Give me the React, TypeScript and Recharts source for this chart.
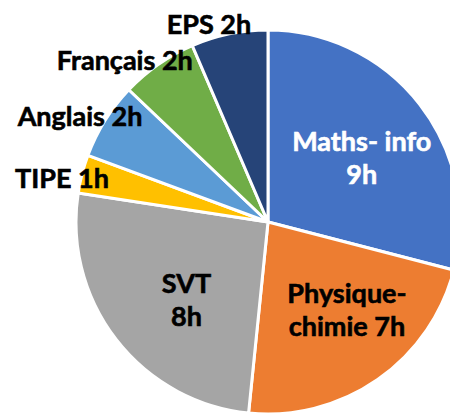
import React from 'react';
import { PieChart, Pie, Cell } from 'recharts';

const subjects = ['Maths- info', 'Physique-chimie', 'SVT', 'TIPE', 'Anglais', 'Français', 'EPS'];
const hours = [9, 7, 8, 1, 2, 2, 2];
const labelLines = [
  ['Maths- info', '9h'],
  ['Physique-', 'chimie 7h'],
  ['SVT', '8h'],
  ['TIPE 1h'],
  ['Anglais 2h'],
  ['Français 2h'],
  ['EPS 2h'],
];
const colors = ['#4472C4', '#ED7D31', '#A5A5A5', '#FFC000', '#5B9BD5', '#70AD47', '#264478'];
const textColors = ['#FFFFFF', '#000000', '#000000', '#000000', '#000000', '#000000', '#000000'];

const data = subjects.map((name, i) => ({ name, value: hours[i] }));

// label placement: radius ratio (of outer radius) and angle nudge (deg)
const placement = [
  { k: 0.594, da: -3 },
  { k: 0.612, da: 7.4 },
  { k: 0.583, da: 5.5 },
  { k: 1.097, da: 2.4 },
  { k: 1.124, da: 2.5 },
  { k: 1.129, da: 6.5 },
  { k: 1.081, da: 4.9 },
];

const RADIAN = Math.PI / 180;

const renderLabel = (props: any) => {
  const { cx, cy, midAngle, outerRadius, index } = props;
  const p = placement[index];
  const a = (midAngle + p.da) * RADIAN;
  const r = outerRadius * p.k;
  const x = cx + r * Math.cos(a);
  const y = cy - r * Math.sin(a);
  const lines = labelLines[index];
  const lh = 33;
  const y0 = y - ((lines.length - 1) * lh) / 2;
  return (
    <g>
      {lines.map((t, j) => (
        <text
          key={j}
          x={x}
          y={y0 + j * lh}
          textAnchor="middle"
          dominantBaseline="central"
          fontFamily="Lato, 'Open Sans', sans-serif"
          fontWeight={700}
          fontSize={27}
          fill={textColors[index]}
          stroke={textColors[index]}
          strokeWidth={0.6}
        >
          {t}
        </text>
      ))}
    </g>
  );
};

export default function App() {
  return (
    <div style={{ position: 'absolute', left: 0, top: 0, width: 450, height: 414, background: '#fff' }}>
      <PieChart width={450} height={414} margin={{ top: 0, right: 0, bottom: 0, left: 0 }}>
        <Pie
          data={data}
          dataKey="value"
          nameKey="name"
          cx={268}
          cy={222}
          outerRadius={192}
          startAngle={90}
          endAngle={-270}
          stroke="#FFFFFF"
          strokeWidth={3}
          label={renderLabel}
          labelLine={false}
          isAnimationActive={false}
        >
          {data.map((d, i) => (
            <Cell key={d.name} fill={colors[i]} />
          ))}
        </Pie>
      </PieChart>
    </div>
  );
}
